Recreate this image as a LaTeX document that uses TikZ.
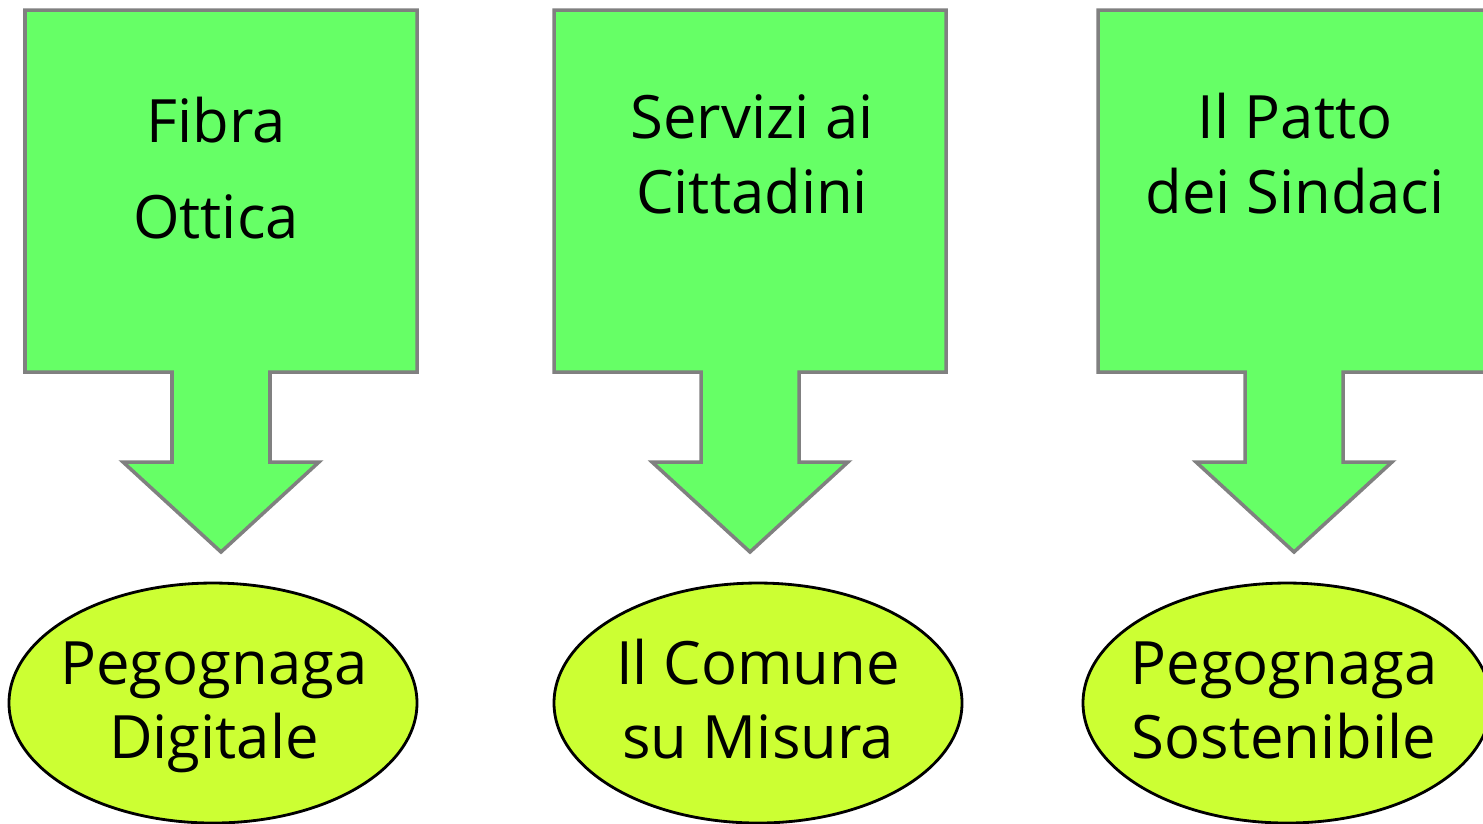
\documentclass[tikz,border=0pt]{standalone}
\usepackage{fontspec}
\setmainfont{Open Sans}
\begin{document}
\begin{tikzpicture}[x=0.01cm,y=-0.01cm,
  boxarrow/.style={fill=boxgreen,draw=gray,line width=1pt},
  oval/.style={fill=ovalgreen,draw=black,line width=0.8pt},
  label/.style={align=center,anchor=base,font=\fontsize{17}{21.3}\selectfont,inner sep=0pt}]
\definecolor{boxgreen}{HTML}{66FF66}
\definecolor{ovalgreen}{HTML}{CCFF33}
\useasboundingbox (0,0) rectangle (1483,823);
\foreach \c in {221,750,1294}{
  \draw[boxarrow] (\c-196,10) -- (\c+196,10) -- (\c+196,372) -- (\c+49,372) -- (\c+49,462)
    -- (\c+98,462) -- (\c,552) -- (\c-98,462) -- (\c-49,462) -- (\c-49,372) -- (\c-196,372) -- cycle;
}
\foreach \c in {213,758,1287}{
  \draw[oval] (\c,703) ellipse [x radius=204, y radius=120];
}
\node[label,font=\fontsize{17}{27.3}\selectfont] (t1) at (216,238) {Fibra\\Ottica};
\node[label] (t2) at (752,213) {Servizi ai\\Cittadini};
\node[label] (t3) at (1295,213) {Il Patto\\dei Sindaci};
\node[label,font=\fontsize{17}{20.8}\selectfont] (e1) at (214,758) {Pegognaga\\Digitale};
\node[label,font=\fontsize{17}{20.8}\selectfont] (e2) at (758,758) {Il Comune\\su Misura};
\node[label,font=\fontsize{17}{20.8}\selectfont] (e3) at (1284,758) {Pegognaga\\Sostenibile};
\end{tikzpicture}
\end{document}
